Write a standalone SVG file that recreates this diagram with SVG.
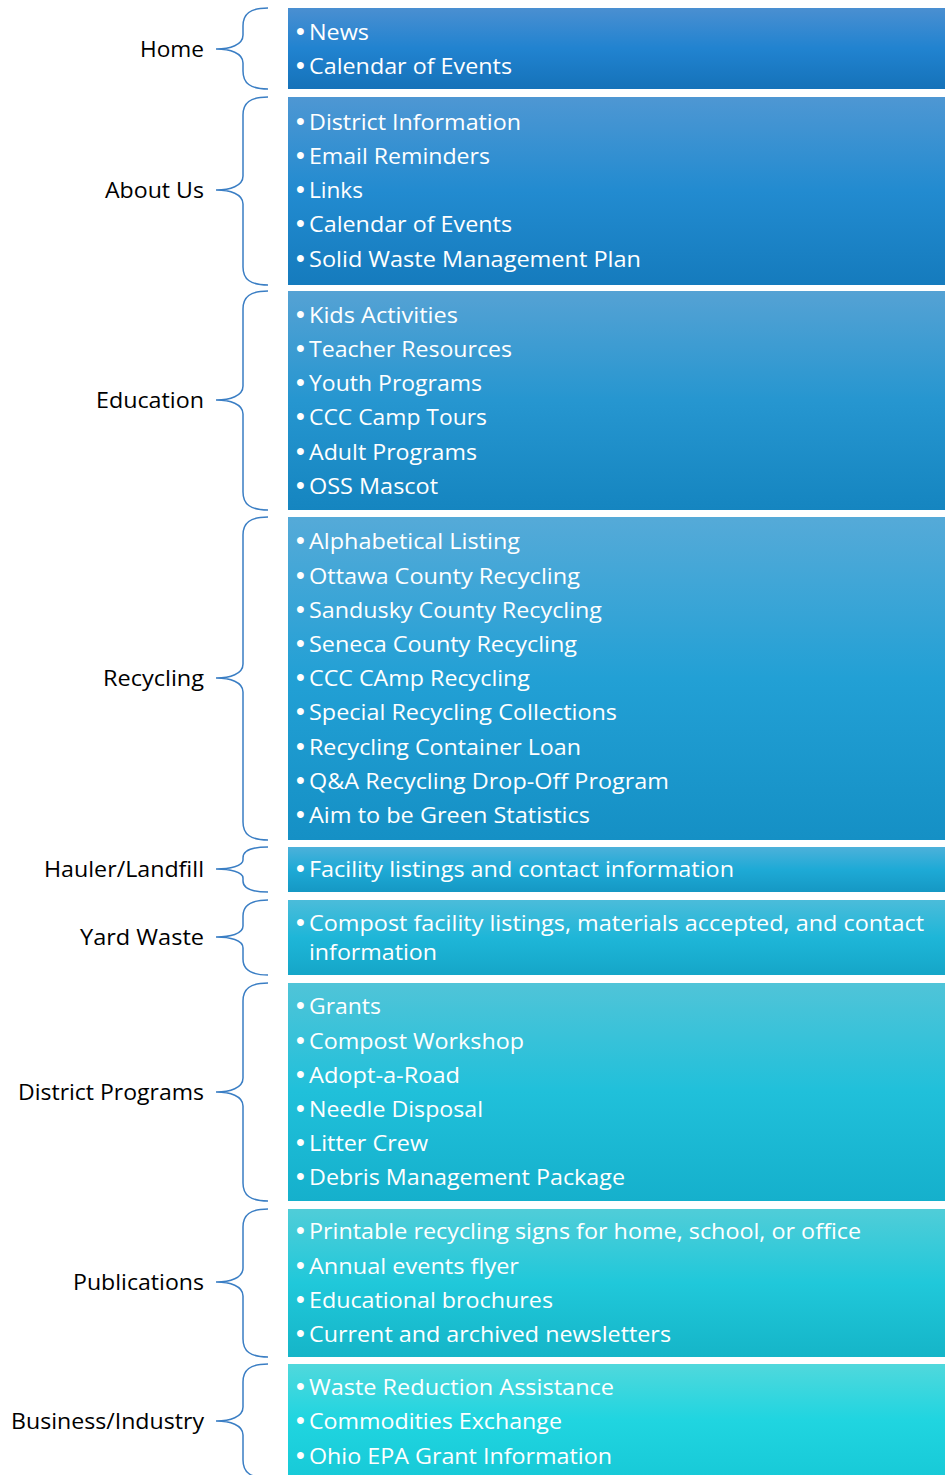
<svg xmlns="http://www.w3.org/2000/svg" width="945" height="1475" viewBox="0 0 945 1475">
<style>
.lbl{font-family:"Open Sans","Liberation Sans",sans-serif;font-size:21px;fill:#000;text-anchor:end}
.it{font-family:"Open Sans","Liberation Sans",sans-serif;font-size:21px;fill:#fff}
.b{font-family:"Liberation Sans",sans-serif;font-size:25px}
.br{fill:none;stroke:#3a7ec4;stroke-width:1.5}
</style>
<defs>
<linearGradient id="g1" x1="0" y1="0" x2="0" y2="1"><stop offset="0" stop-color="#4a8fd1"/><stop offset="0.5" stop-color="#2183d0"/><stop offset="1" stop-color="#1572b9"/></linearGradient>
<linearGradient id="g2" x1="0" y1="0" x2="0" y2="1"><stop offset="0" stop-color="#4e97d3"/><stop offset="0.5" stop-color="#228bd0"/><stop offset="1" stop-color="#157bbd"/></linearGradient>
<linearGradient id="g3" x1="0" y1="0" x2="0" y2="1"><stop offset="0" stop-color="#55a2d4"/><stop offset="0.5" stop-color="#2696d0"/><stop offset="1" stop-color="#1585c0"/></linearGradient>
<linearGradient id="g4" x1="0" y1="0" x2="0" y2="1"><stop offset="0" stop-color="#55aad8"/><stop offset="0.5" stop-color="#22a0d5"/><stop offset="1" stop-color="#1590c5"/></linearGradient>
<linearGradient id="g5" x1="0" y1="0" x2="0" y2="1"><stop offset="0" stop-color="#4cb1da"/><stop offset="0.5" stop-color="#1eaad6"/><stop offset="1" stop-color="#1598c4"/></linearGradient>
<linearGradient id="g6" x1="0" y1="0" x2="0" y2="1"><stop offset="0" stop-color="#4bbcda"/><stop offset="0.5" stop-color="#1eb6d8"/><stop offset="1" stop-color="#15a6c8"/></linearGradient>
<linearGradient id="g7" x1="0" y1="0" x2="0" y2="1"><stop offset="0" stop-color="#50c4d8"/><stop offset="0.5" stop-color="#20c0da"/><stop offset="1" stop-color="#15b0cc"/></linearGradient>
<linearGradient id="g8" x1="0" y1="0" x2="0" y2="1"><stop offset="0" stop-color="#50cdd8"/><stop offset="0.5" stop-color="#20c8da"/><stop offset="1" stop-color="#15b5c8"/></linearGradient>
<linearGradient id="g9" x1="0" y1="0" x2="0" y2="1"><stop offset="0" stop-color="#50d8dc"/><stop offset="0.5" stop-color="#20d5e0"/><stop offset="1" stop-color="#18cad8"/></linearGradient>
</defs>
<rect width="945" height="1475" fill="#fff"/>

<g id="connectors">
<path class="br" d="M268,8 C250,8 243,14 243,26 L243,35 C243,45 230,49 216,49 C230,49 243,53 243,63 L243,71 C243,83 250,89 268,89"/>
<path class="br" d="M268,97 C250,97 243,103 243,115 L243,176 C243,186 230,190 216,190 C230,190 243,194 243,204 L243,267 C243,279 250,285 268,285"/>
<path class="br" d="M268,291 C250,291 243,297 243,309 L243,386 C243,396 230,400 216,400 C230,400 243,404 243,414 L243,492 C243,504 250,510 268,510"/>
<path class="br" d="M268,517 C250,517 243,523 243,535 L243,664 C243,674 230,678 216,678 C230,678 243,682 243,692 L243,822 C243,834 250,840 268,840"/>
<path class="br" d="M268,847 C252,847 243,851 243,858 L243,860 C243,866 230,869 216,869 C230,869 243,872 243,878 L243,881 C243,888 252,892 268,892"/>
<path class="br" d="M268,900 C250,900 243,906 243,916 L243,926 C243,934 230,937 216,937 C230,937 243,940 243,948 L243,959 C243,969 250,975 268,975"/>
<path class="br" d="M268,983 C250,983 243,989 243,1001 L243,1078 C243,1088 230,1092 216,1092 C230,1092 243,1096 243,1106 L243,1183 C243,1195 250,1201 268,1201"/>
<path class="br" d="M268,1209 C250,1209 243,1215 243,1227 L243,1268 C243,1278 230,1282 216,1282 C230,1282 243,1286 243,1296 L243,1339 C243,1351 250,1357 268,1357"/>
<path class="br" d="M268,1364 C250,1364 243,1370 243,1382 L243,1407 C243,1417 230,1421 216,1421 C230,1421 243,1425 243,1435 L243,1460 C243,1472 250,1478 268,1478"/>
</g>

<g id="home">
<text class="lbl" x="204" y="57" textLength="64" lengthAdjust="spacingAndGlyphs">Home</text>
<rect x="288" y="8" width="657" height="81" fill="url(#g1)"/>
<text class="it" x="296" y="40"><tspan class="b">•</tspan><tspan x="309" textLength="60" lengthAdjust="spacingAndGlyphs">News</tspan></text>
<text class="it" x="296" y="74"><tspan class="b">•</tspan><tspan x="309" textLength="203" lengthAdjust="spacingAndGlyphs">Calendar of Events</tspan></text>
</g>

<g id="about">
<text class="lbl" x="204" y="198" textLength="99" lengthAdjust="spacingAndGlyphs">About Us</text>
<rect x="288" y="97" width="657" height="188" fill="url(#g2)"/>
<text class="it" x="296" y="130"><tspan class="b">•</tspan><tspan x="309" textLength="212" lengthAdjust="spacingAndGlyphs">District Information</tspan></text>
<text class="it" x="296" y="164"><tspan class="b">•</tspan><tspan x="309" textLength="181" lengthAdjust="spacingAndGlyphs">Email Reminders</tspan></text>
<text class="it" x="296" y="198"><tspan class="b">•</tspan><tspan x="309" textLength="54" lengthAdjust="spacingAndGlyphs">Links</tspan></text>
<text class="it" x="296" y="232"><tspan class="b">•</tspan><tspan x="309" textLength="203" lengthAdjust="spacingAndGlyphs">Calendar of Events</tspan></text>
<text class="it" x="296" y="267"><tspan class="b">•</tspan><tspan x="309" textLength="332" lengthAdjust="spacingAndGlyphs">Solid Waste Management Plan</tspan></text>
</g>

<g id="education">
<text class="lbl" x="204" y="408" textLength="108" lengthAdjust="spacingAndGlyphs">Education</text>
<rect x="288" y="291" width="657" height="219" fill="url(#g3)"/>
<text class="it" x="296" y="323"><tspan class="b">•</tspan><tspan x="309" textLength="149" lengthAdjust="spacingAndGlyphs">Kids Activities</tspan></text>
<text class="it" x="296" y="357"><tspan class="b">•</tspan><tspan x="309" textLength="203" lengthAdjust="spacingAndGlyphs">Teacher Resources</tspan></text>
<text class="it" x="296" y="391"><tspan class="b">•</tspan><tspan x="309" textLength="173" lengthAdjust="spacingAndGlyphs">Youth Programs</tspan></text>
<text class="it" x="296" y="425"><tspan class="b">•</tspan><tspan x="309" textLength="178" lengthAdjust="spacingAndGlyphs">CCC Camp Tours</tspan></text>
<text class="it" x="296" y="460"><tspan class="b">•</tspan><tspan x="309" textLength="168" lengthAdjust="spacingAndGlyphs">Adult Programs</tspan></text>
<text class="it" x="296" y="494"><tspan class="b">•</tspan><tspan x="309" textLength="129" lengthAdjust="spacingAndGlyphs">OSS Mascot</tspan></text>
</g>

<g id="recycling">
<text class="lbl" x="204" y="686" textLength="101" lengthAdjust="spacingAndGlyphs">Recycling</text>
<rect x="288" y="517" width="657" height="323" fill="url(#g4)"/>
<text class="it" x="296" y="549"><tspan class="b">•</tspan><tspan x="309" textLength="211" lengthAdjust="spacingAndGlyphs">Alphabetical Listing</tspan></text>
<text class="it" x="296" y="584"><tspan class="b">•</tspan><tspan x="309" textLength="271" lengthAdjust="spacingAndGlyphs">Ottawa County Recycling</tspan></text>
<text class="it" x="296" y="618"><tspan class="b">•</tspan><tspan x="309" textLength="293" lengthAdjust="spacingAndGlyphs">Sandusky County Recycling</tspan></text>
<text class="it" x="296" y="652"><tspan class="b">•</tspan><tspan x="309" textLength="268" lengthAdjust="spacingAndGlyphs">Seneca County Recycling</tspan></text>
<text class="it" x="296" y="686"><tspan class="b">•</tspan><tspan x="309" textLength="221" lengthAdjust="spacingAndGlyphs">CCC CAmp Recycling</tspan></text>
<text class="it" x="296" y="720"><tspan class="b">•</tspan><tspan x="309" textLength="308" lengthAdjust="spacingAndGlyphs">Special Recycling Collections</tspan></text>
<text class="it" x="296" y="755"><tspan class="b">•</tspan><tspan x="309" textLength="272" lengthAdjust="spacingAndGlyphs">Recycling Container Loan</tspan></text>
<text class="it" x="296" y="789"><tspan class="b">•</tspan><tspan x="309" textLength="360" lengthAdjust="spacingAndGlyphs">Q&amp;A Recycling Drop-Off Program</tspan></text>
<text class="it" x="296" y="823"><tspan class="b">•</tspan><tspan x="309" textLength="281" lengthAdjust="spacingAndGlyphs">Aim to be Green Statistics</tspan></text>
</g>

<g id="hauler">
<text class="lbl" x="204" y="877" textLength="160" lengthAdjust="spacingAndGlyphs">Hauler/Landfill</text>
<rect x="288" y="847" width="657" height="45" fill="url(#g5)"/>
<text class="it" x="296" y="877"><tspan class="b">•</tspan><tspan x="309" textLength="425" lengthAdjust="spacingAndGlyphs">Facility listings and contact information</tspan></text>
</g>

<g id="yardwaste">
<text class="lbl" x="204" y="945" textLength="124" lengthAdjust="spacingAndGlyphs">Yard Waste</text>
<rect x="288" y="900" width="657" height="75" fill="url(#g6)"/>
<text class="it" x="296" y="931"><tspan class="b">•</tspan><tspan x="309" textLength="615" lengthAdjust="spacingAndGlyphs">Compost facility listings, materials accepted, and contact</tspan></text>
<text class="it" x="309" y="960" textLength="128" lengthAdjust="spacingAndGlyphs">information</text>
</g>

<g id="district">
<text class="lbl" x="204" y="1100" textLength="186" lengthAdjust="spacingAndGlyphs">District Programs</text>
<rect x="288" y="983" width="657" height="218" fill="url(#g7)"/>
<text class="it" x="296" y="1014"><tspan class="b">•</tspan><tspan x="309" textLength="72" lengthAdjust="spacingAndGlyphs">Grants</tspan></text>
<text class="it" x="296" y="1049"><tspan class="b">•</tspan><tspan x="309" textLength="215" lengthAdjust="spacingAndGlyphs">Compost Workshop</tspan></text>
<text class="it" x="296" y="1083"><tspan class="b">•</tspan><tspan x="309" textLength="151" lengthAdjust="spacingAndGlyphs">Adopt-a-Road</tspan></text>
<text class="it" x="296" y="1117"><tspan class="b">•</tspan><tspan x="309" textLength="174" lengthAdjust="spacingAndGlyphs">Needle Disposal</tspan></text>
<text class="it" x="296" y="1151"><tspan class="b">•</tspan><tspan x="309" textLength="119" lengthAdjust="spacingAndGlyphs">Litter Crew</tspan></text>
<text class="it" x="296" y="1185"><tspan class="b">•</tspan><tspan x="309" textLength="316" lengthAdjust="spacingAndGlyphs">Debris Management Package</tspan></text>
</g>

<g id="publications">
<text class="lbl" x="204" y="1290" textLength="131" lengthAdjust="spacingAndGlyphs">Publications</text>
<rect x="288" y="1209" width="657" height="148" fill="url(#g8)"/>
<text class="it" x="296" y="1239"><tspan class="b">•</tspan><tspan x="309" textLength="552" lengthAdjust="spacingAndGlyphs">Printable recycling signs for home, school, or office</tspan></text>
<text class="it" x="296" y="1274"><tspan class="b">•</tspan><tspan x="309" textLength="210" lengthAdjust="spacingAndGlyphs">Annual events flyer</tspan></text>
<text class="it" x="296" y="1308"><tspan class="b">•</tspan><tspan x="309" textLength="244" lengthAdjust="spacingAndGlyphs">Educational brochures</tspan></text>
<text class="it" x="296" y="1342"><tspan class="b">•</tspan><tspan x="309" textLength="362" lengthAdjust="spacingAndGlyphs">Current and archived newsletters</tspan></text>
</g>

<g id="business">
<text class="lbl" x="204" y="1429" textLength="193" lengthAdjust="spacingAndGlyphs">Business/Industry</text>
<rect x="288" y="1364" width="657" height="111" fill="url(#g9)"/>
<text class="it" x="296" y="1395"><tspan class="b">•</tspan><tspan x="309" textLength="305" lengthAdjust="spacingAndGlyphs">Waste Reduction Assistance</tspan></text>
<text class="it" x="296" y="1429"><tspan class="b">•</tspan><tspan x="309" textLength="253" lengthAdjust="spacingAndGlyphs">Commodities Exchange</tspan></text>
<text class="it" x="296" y="1464"><tspan class="b">•</tspan><tspan x="309" textLength="303" lengthAdjust="spacingAndGlyphs">Ohio EPA Grant Information</tspan></text>
</g>
</svg>
